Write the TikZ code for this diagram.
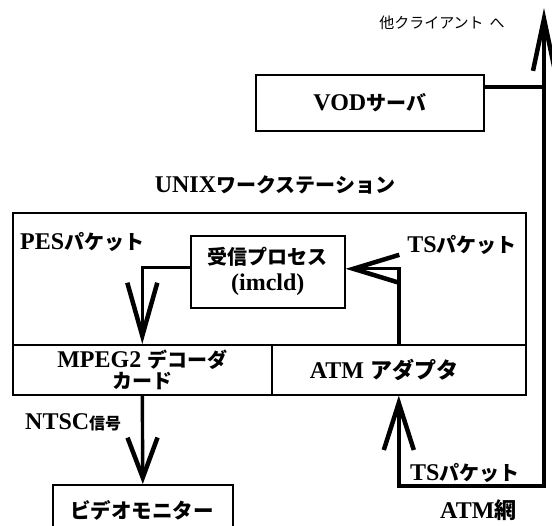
\documentclass[tikz,border=0pt]{standalone}
\usepackage{fontspec}
\setmainfont{Liberation Serif}
\newfontfamily\jpf{Noto Sans CJK JP}
\usetikzlibrary{arrows.meta}
\newcommand\jt[2]{{\jpf\fontsize{#1}{#1}\selectfont #2}}
\begin{document}
\begin{tikzpicture}[x=1pt,y=-1pt,
  box/.style={draw, line width=1.6pt, inner sep=0pt, anchor=north west, align=center},
  lat/.style={font=\fontsize{24}{26}\selectfont\bfseries},
  lbl/.style={lat, inner sep=0pt},
  thk/.style={line width=3.4pt},
  barb/.style 2 args={thk, -{Straight Barb[length=#1pt, width=#2pt, line width=4.5pt]}}]
\clip (0,0) rectangle (552,526);
% boxes
\node[box, lat, minimum width=228pt, minimum height=56pt] (vod) at (255,74) {VOD\jt{20}{サーバ}};
\node[box, minimum width=513pt, minimum height=132pt] (ws) at (12,212) {};
\node[box, lat, minimum width=259pt, minimum height=50pt] (mpeg) at (12,344)
  {MPEG2 \jt{20}{デコーダ}\\[-5pt]\jt{20}{カード}};
\node[box, minimum width=254pt, minimum height=50pt] (atm) at (271,344) {};
\node[box, lat, minimum width=154pt, minimum height=72pt] (proc) at (190,235)
  {\jt{20}{受信プロセス}\\(imcld)};
\node[box, minimum width=180pt, minimum height=60pt] (mon) at (52,484) {};
% labels
\node[lbl] (atmt) at (384,370) {ATM \jt{22}{アダプタ}};
\node[lbl] (mont) at (142,510) {\jt{20.5}{ビデオモニター}};
\node[inner sep=0pt] (oth) at (442,23) {\jt{15}{他クライアント\hspace{6pt}へ}};
\node[lbl] (unix) at (275,185) {UNIX\jt{20}{ワークステーション}};
\node[lbl, anchor=west] (pes) at (20,242) {PES\jt{20}{パケット}};
\node[lbl, anchor=east] (ts1) at (517,245) {TS\jt{20}{パケット}};
\node[lbl, anchor=west] (ntsc) at (25,422) {NTSC\jt{16}{信号}};
\node[lbl, anchor=west] (ts2) at (410,473) {TS\jt{20}{パケット}};
\node[lbl, anchor=west] (net) at (440,510) {ATM\jt{22}{網}};
% connectors
\coordinate (vj) at (544,87);
\coordinate (tp) at (544,8);
\coordinate (br) at (544,486);
\draw[thk] (vj -| vod.east) -- (vj);
\draw[barb={52}{22}] (vj) -- (tp);
\draw[barb={47}{30}] (vj) -- (br) -| (atm.south);
\draw[barb={46}{28}] (atm.north) |- ([yshift=3pt]proc.east);
\draw[barb={53}{30}] ([yshift=4pt]proc.west) -| (mpeg.north);
\draw[barb={40}{30}] (mpeg.south) -- (mon.north);
\end{tikzpicture}
\end{document}
